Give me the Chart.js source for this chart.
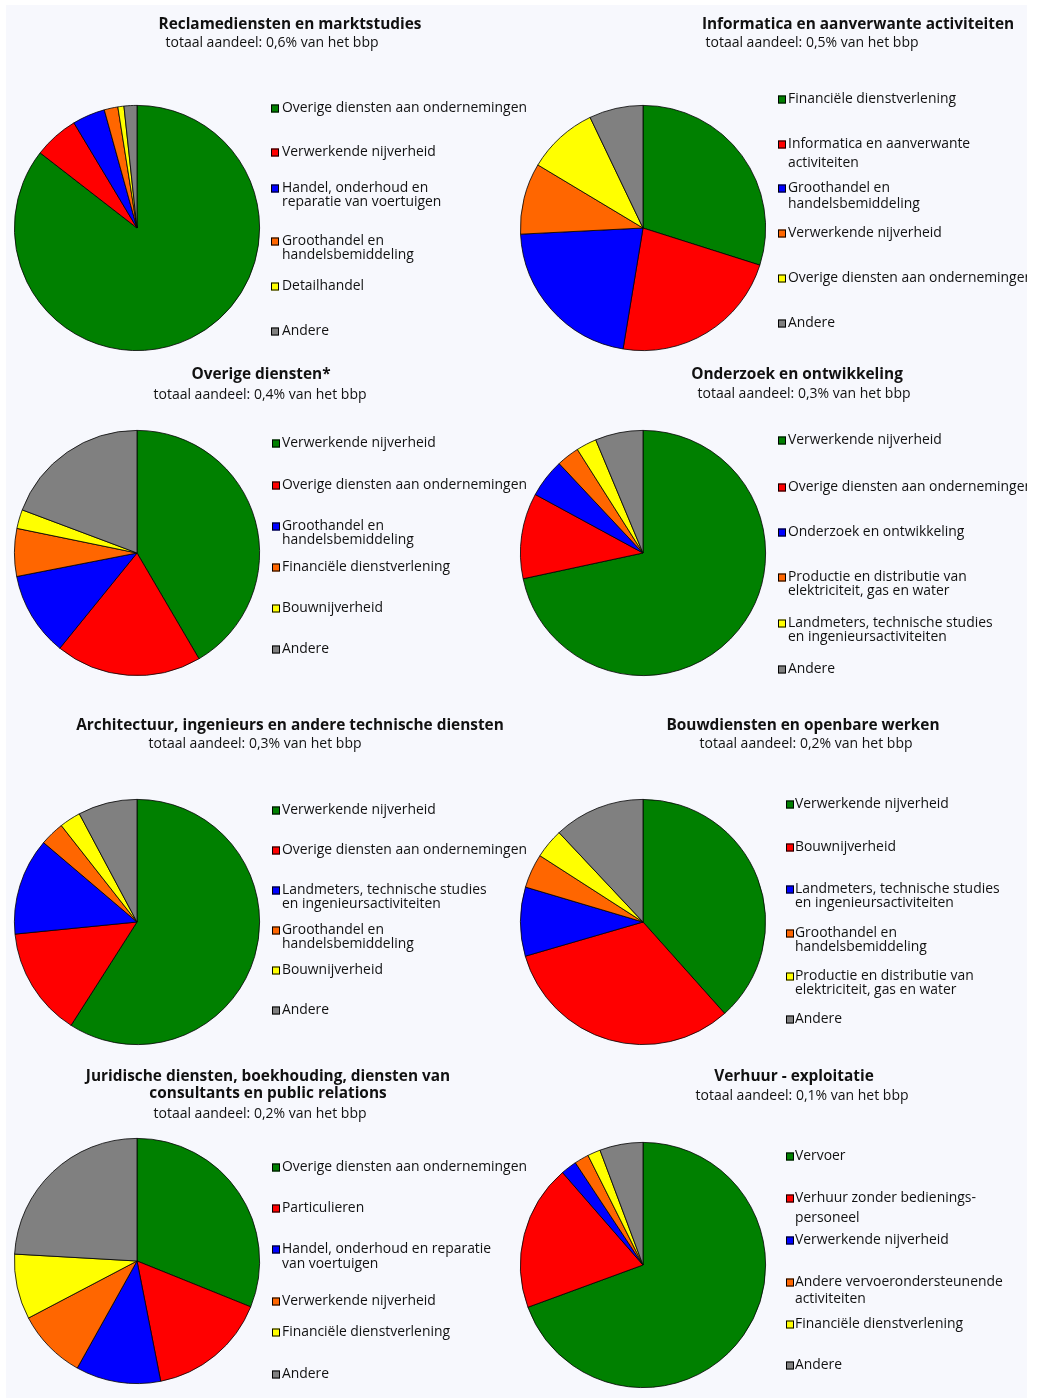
<!DOCTYPE html>
<html>
<head>
<meta charset="utf-8">
<script src="https://cdn.jsdelivr.net/npm/chart.js@4.4.0/dist/chart.umd.min.js"></script>
<style>
body { margin: 0; background: #fff; }
#wrap { position: relative; width: 1039px; height: 1398px; overflow: hidden; }
#panel { position: absolute; left: 6px; top: 5px; width: 1021px; height: 1393px; background: #f7f8fd; }
#wrap canvas { position: absolute; left: 0; top: 0; }
</style>
</head>
<body>
<div id="wrap"><div id="panel"></div></div>
<script>
// kleuren van de schijven (zelfde volgorde in elke grafiek)
const colours = ['#008000', '#ff0000', '#0000ff', '#ff6600', '#ffff00', '#808080'];

// 1. Reclamediensten en marktstudies
const cats1 = [['Overige diensten aan ondernemingen'], ['Verwerkende nijverheid'], ['Handel, onderhoud en', 'reparatie van voertuigen'], ['Groothandel en', 'handelsbemiddeling'], ['Detailhandel'], ['Andere']];
const vals1 = [85.5, 5.9, 4.3, 1.8, 0.8, 1.7];

// 2. Informatica en aanverwante activiteiten
const cats2 = [['Financiële dienstverlening'], ['Informatica en aanverwante', 'activiteiten'], ['Groothandel en', 'handelsbemiddeling'], ['Verwerkende nijverheid'], ['Overige diensten aan ondernemingen'], ['Andere']];
const vals2 = [29.9, 22.7, 21.6, 9.4, 9.3, 7.1];

// 3. Overige diensten*
const cats3 = [['Verwerkende nijverheid'], ['Overige diensten aan ondernemingen'], ['Groothandel en', 'handelsbemiddeling'], ['Financiële dienstverlening'], ['Bouwnijverheid'], ['Andere']];
const vals3 = [41.6, 19.3, 11.1, 6.3, 2.5, 19.3];

// 4. Onderzoek en ontwikkeling
const cats4 = [['Verwerkende nijverheid'], ['Overige diensten aan ondernemingen'], ['Onderzoek en ontwikkeling'], ['Productie en distributie van', 'elektriciteit, gas en water'], ['Landmeters, technische studies', 'en ingenieursactiviteiten'], ['Andere']];
const vals4 = [71.7, 11.3, 5.1, 3.0, 2.7, 6.3];

// 5. Architectuur, ingenieurs en andere technische diensten
const cats5 = [['Verwerkende nijverheid'], ['Overige diensten aan ondernemingen'], ['Landmeters, technische studies', 'en ingenieursactiviteiten'], ['Groothandel en', 'handelsbemiddeling'], ['Bouwnijverheid'], ['Andere']];
const vals5 = [59.1, 14.4, 12.8, 3.2, 2.8, 7.8];

// 6. Bouwdiensten en openbare werken
const cats6 = [['Verwerkende nijverheid'], ['Bouwnijverheid'], ['Landmeters, technische studies', 'en ingenieursactiviteiten'], ['Groothandel en', 'handelsbemiddeling'], ['Productie en distributie van', 'elektriciteit, gas en water'], ['Andere']];
const vals6 = [38.4, 32.1, 9.1, 4.5, 3.9, 12.0];

// 7. Juridische diensten ...
const cats7 = [['Overige diensten aan ondernemingen'], ['Particulieren'], ['Handel, onderhoud en reparatie', 'van voertuigen'], ['Verwerkende nijverheid'], ['Financiële dienstverlening'], ['Andere']];
const vals7 = [31.1, 15.8, 11.2, 9.2, 8.6, 24.1];

// 8. Verhuur - exploitatie
const cats8 = [['Vervoer'], ['Verhuur zonder bedienings-', 'personeel'], ['Verwerkende nijverheid'], ['Andere vervoerondersteunende', 'activiteiten'], ['Financiële dienstverlening'], ['Andere']];
const vals8 = [69.4, 19.2, 2.1, 1.9, 1.7, 5.7];

const titles = [
    ['Reclamediensten en marktstudies'],
    ['Informatica en aanverwante activiteiten'],
    ['Overige diensten*'],
    ['Onderzoek en ontwikkeling'],
    ['Architectuur, ingenieurs en andere technische diensten'],
    ['Bouwdiensten en openbare werken'],
    ['Juridische diensten, boekhouding, diensten van', 'consultants en public relations'],
    ['Verhuur - exploitatie']
];
const shares = ['0,6', '0,5', '0,4', '0,3', '0,3', '0,2', '0,2', '0,1'];

// plaats van elke grafiek op de pagina
const layout = [
    { cx: 137, cy: 228, tx: 290, ty: [24], sx: 272, sy: 42, lx: 271, ltx: 282, ly: [[107], [151], [187, 201], [240, 254], [285], [330]] },
    { cx: 643, cy: 228, tx: 858, ty: [24], sx: 812, sy: 42, lx: 778, ltx: 788, ly: [[98], [143, 162], [187, 203], [232], [277], [322]] },
    { cx: 137, cy: 553, tx: 261, ty: [374], sx: 260, sy: 394, lx: 272, ltx: 282, ly: [[442], [484], [525, 539], [566], [607], [648]] },
    { cx: 643, cy: 553, tx: 797, ty: [374], sx: 804, sy: 393, lx: 778, ltx: 788, ly: [[439], [486], [531], [576, 590], [622, 636], [668]] },
    { cx: 137, cy: 922, tx: 290, ty: [725], sx: 255, sy: 743, lx: 272, ltx: 282, ly: [[809], [849], [889, 903], [929, 943], [969], [1009]] },
    { cx: 643, cy: 922, tx: 803, ty: [725], sx: 806, sy: 743, lx: 786, ltx: 795, ly: [[803], [846], [888, 902], [932, 946], [975, 989], [1018]] },
    { cx: 137, cy: 1261, tx: 268, ty: [1076, 1093], sx: 260, sy: 1113, lx: 272, ltx: 282, ly: [[1166], [1207], [1248, 1263], [1300], [1331], [1373]] },
    { cx: 643, cy: 1265, tx: 794, ty: [1076], sx: 802, sy: 1095, lx: 786, ltx: 795, ly: [[1155], [1197, 1217], [1239], [1281, 1298], [1323], [1364]] }
];

const W = 1039, H = 1398, R = 123;
const allCats = [cats1, cats2, cats3, cats4, cats5, cats6, cats7, cats8];
const allVals = [vals1, vals2, vals3, vals4, vals5, vals6, vals7, vals8];

// titel, ondertitel en legende zelf tekenen
const tekstPlugin = {
    id: 'tekst',
    afterDraw(chart, args, o) {
        const ctx = chart.ctx;
        const p = o.pos;
        const dy = 1; // Open Sans staat net iets hoger dan het origineel
        ctx.save();
        ctx.beginPath();
        ctx.rect(0, 0, 1027, H);
        ctx.clip();
        ctx.textBaseline = 'middle';
        ctx.fillStyle = '#111';
        ctx.textAlign = 'center';
        ctx.font = 'bold 15.4px "Open Sans"';
        o.title.forEach((t, i) => ctx.fillText(t, p.tx, p.ty[i] + dy));
        ctx.font = '14px "Open Sans"';
        ctx.fillText(o.sub, p.sx, p.sy + dy);
        ctx.textAlign = 'left';
        ctx.font = '13.9px "Open Sans"';
        chart.data.labels.forEach((lab, i) => {
            const ys = p.ly[i];
            ctx.fillStyle = chart.data.datasets[0].backgroundColor[i];
            ctx.fillRect(p.lx, ys[0] - 2.5, 8, 8);
            ctx.strokeStyle = '#000';
            ctx.lineWidth = 1;
            ctx.strokeRect(p.lx + 0.5, ys[0] - 2, 7, 7);
            ctx.fillStyle = '#111';
            lab.forEach((line, j) => ctx.fillText(line, p.ltx, ys[j] + dy));
        });
        ctx.restore();
    }
};

allVals.forEach((vals, k) => {
    const pos = layout[k];
    const canvas = document.createElement('canvas');
    canvas.width = W;
    canvas.height = H;
    canvas.style.width = W + 'px';
    canvas.style.height = H + 'px';
    document.getElementById('wrap').appendChild(canvas);

    new Chart(canvas.getContext('2d'), {
        type: 'pie',
        data: {
            labels: allCats[k],
            datasets: [{
                data: vals,
                backgroundColor: colours,
                borderColor: '#000',
                borderWidth: 0.8
            }]
        },
        options: {
            responsive: false,
            animation: false,
            layout: {
                padding: { left: pos.cx - R, top: pos.cy - R, right: W - pos.cx - R, bottom: H - pos.cy - R }
            },
            plugins: {
                legend: { display: false },
                tooltip: { enabled: false },
                tekst: { pos: pos, title: titles[k], sub: 'totaal aandeel: ' + shares[k] + '% van het bbp' }
            }
        },
        plugins: [tekstPlugin]
    });
});
</script>
</body>
</html>
